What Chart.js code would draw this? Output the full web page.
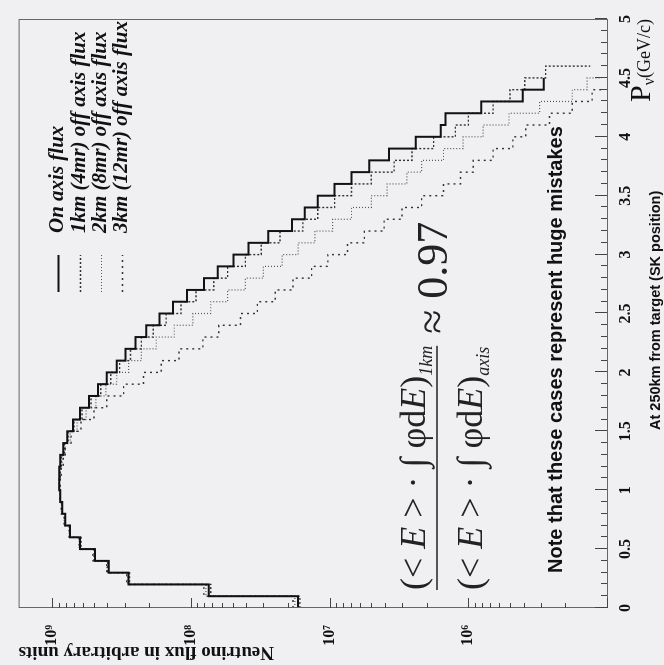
<!DOCTYPE html>
<html>
<head>
<meta charset="utf-8">
<script src="https://cdn.jsdelivr.net/npm/chart.js@4.4.1/dist/chart.umd.min.js"></script>
<style>
  html, body { margin: 0; padding: 0; background: #f0eff1; overflow: hidden; }
  /* the figure is printed turned a quarter turn to the left */
  #wrap { position: absolute; left: 0; top: 0; width: 665px; height: 664px;
          transform-origin: 0 0; transform: translate(0, 665px) rotate(-90deg); }
</style>
</head>
<body>
<div id="wrap"><canvas id="flux" width="665" height="664"></canvas></div>
<script>
// Bin edges in GeV/c (0.1 GeV/c bins)
const momentumEdges = [0.0, 0.1, 0.2, 0.3, 0.4, 0.5, 0.6, 0.7, 0.8, 0.9,
    1.0, 1.1, 1.2, 1.3, 1.4, 1.5, 1.6, 1.7, 1.8, 1.9,
    2.0, 2.1, 2.2, 2.3, 2.4, 2.5, 2.6, 2.7, 2.8, 2.9,
    3.0, 3.1, 3.2, 3.3, 3.4, 3.5, 3.6, 3.7, 3.8, 3.9,
    4.0, 4.1, 4.2, 4.3, 4.4, 4.5, 4.6, 4.7, 4.8, 4.9, 5.0];

// Flux per bin (arbitrary units)
const onAxisFlux = [1.69e7, 7.44e7, 2.82e8, 3.92e8, 4.93e8, 6.31e8, 7.44e8, 8.07e8, 8.48e8, 8.77e8,
    8.91e8, 8.91e8, 8.77e8, 8.34e8, 7.8e8, 7.08e8, 6.31e8, 5.44e8, 4.69e8, 4.05e8,
    3.43e8, 2.96e8, 2.51e8, 2.10e8, 1.69e8, 1.35e8, 1.07e8, 8.07e7, 6.41e7, 4.93e7,
    3.85e7, 2.77e7, 1.87e7, 1.51e7, 1.22e7, 9.21e6, 6.96e6, 5.18e6, 3.73e6, 2.39e6,
    1.58e6, 1.46e6, 8.07e5, 4.05e5, 2.86e5, 2.86e5, 0, 0, 0, 0];
const offAxis1km = [1.64e7, 7.20e7, 2.77e8, 3.98e8, 4.93e8, 6.21e8, 7.44e8, 8.07e8, 8.48e8, 8.77e8,
    8.91e8, 8.77e8, 8.62e8, 8.21e8, 7.69e8, 6.96e8, 6.11e8, 5.26e8, 4.47e8, 3.79e8,
    3.27e8, 2.73e8, 2.28e8, 1.87e8, 1.51e8, 1.18e8, 9.21e7, 6.85e7, 5.44e7, 4.05e7,
    3.11e7, 2.28e7, 1.56e7, 1.22e7, 9.21e6, 6.96e6, 5.01e6, 3.43e6, 2.55e6, 1.78e6,
    1.24e6, 1.00e6, 6.63e5, 5.01e5, 3.92e5, 2.77e5, 1.32e5, 0, 0, 0];
const offAxis2km = [1.78e7, 7.81e7, 2.87e8, 4.05e8, 5.01e8, 6.41e8, 7.56e8, 8.21e8, 8.62e8, 8.77e8,
    8.91e8, 8.77e8, 8.48e8, 8.07e8, 7.44e8, 6.63e8, 5.71e8, 4.85e8, 4.11e8, 3.43e8,
    2.82e8, 2.28e8, 1.78e8, 1.32e8, 9.68e7, 7.20e7, 5.44e7, 4.05e7, 3.01e7, 2.20e7,
    1.69e7, 1.28e7, 9.52e6, 6.96e6, 5.01e6, 3.85e6, 2.77e6, 2.17e6, 1.51e6, 1.09e6,
    7.81e5, 5.09e5, 3.06e5, 1.78e5, 1.39e5, 1.09e5, 0, 0, 0, 0];
const offAxis3km = [1.84e7, 8.07e7, 2.91e8, 4.05e8, 5.09e8, 6.41e8, 7.56e8, 8.21e8, 8.62e8, 8.77e8,
    8.77e8, 8.62e8, 8.34e8, 8.07e8, 7.32e8, 6.21e8, 5.01e8, 4.05e8, 3.06e8, 2.20e8,
    1.64e8, 1.22e8, 8.21e7, 6.31e7, 4.39e7, 3.32e7, 2.47e7, 1.84e7, 1.35e7, 1.03e7,
    7.44e6, 5.62e6, 4.05e6, 3.01e6, 2.17e6, 1.51e6, 1.14e6, 9.21e5, 6.63e5, 4.77e5,
    3.85e5, 2.60e5, 1.78e5, 1.28e5, 1.03e5, 0, 0, 0, 0, 0];

const seriesLabels = ['On axis flux', '1km (4mr) off axis flux', '2km (8mr) off axis flux', '3km (12mr) off axis flux'];
const labelledDecades = [6, 7, 8, 9];

const SERIF = '"Liberation Serif", "Times New Roman", serif';
const SANS = '"Liberation Sans", Arial, sans-serif';
const SUP = {5: '\u2075', 6: '\u2076', 7: '\u2077', 8: '\u2078', 9: '\u2079'};

// histogram: one point per bin edge, last bin value carried to the end edge
function histPoints(values) {
    return momentumEdges.map((p, i) => ({ x: p, y: values[Math.min(i, values.length - 1)] }));
}

function isHalf(v) {
    return Math.abs(v * 2 - Math.round(v * 2)) < 1e-6;
}

const styles = [
    { color: '#111', width: 2, dash: [] },
    { color: '#333', width: 1.4, dash: [2, 2] },
    { color: '#555', width: 1.2, dash: [1, 2] },
    { color: '#333', width: 1.4, dash: [2, 4] }
];
const series = [onAxisFlux, offAxis1km, offAxis2km, offAxis3km];

// Rahmen, Ticks nach innen, Legende und Beschriftungen
const decorations = {
    id: 'decorations',
    afterDraw(chart) {
        const { ctx, chartArea: a, scales: { x, y } } = chart;
        ctx.save();

        ctx.strokeStyle = '#666';
        ctx.lineWidth = 1;
        ctx.strokeRect(a.left + 0.5, a.top + 0.5, a.right - a.left - 1, a.bottom - a.top);

        ctx.strokeStyle = '#444';
        ctx.beginPath();
        x.ticks.forEach(t => {
            const px = Math.round(x.getPixelForValue(t.value)) + 0.5;
            const len = isHalf(t.value) ? 12 : 6;
            ctx.moveTo(px, a.bottom);
            ctx.lineTo(px, a.bottom - len);
        });
        y.ticks.forEach(t => {
            const m = t.value / Math.pow(10, Math.floor(Math.log10(t.value) + 1e-9));
            if (Math.abs(m - Math.round(m)) > 1e-6) return;
            const py = Math.round(y.getPixelForValue(t.value)) + 0.5;
            const len = Math.round(m) === 1 ? 10 : 5;
            ctx.moveTo(a.left, py);
            ctx.lineTo(a.left + len, py);
        });
        ctx.stroke();

        // Legende
        const rows = [58, 80, 101, 122];
        chart.data.datasets.forEach((ds, i) => {
            ctx.strokeStyle = ds.borderColor;
            ctx.lineWidth = ds.borderWidth;
            ctx.setLineDash(ds.borderDash);
            ctx.beginPath();
            ctx.moveTo(373, rows[i] + 0.5);
            ctx.lineTo(410, rows[i] + 0.5);
            ctx.stroke();
            ctx.setLineDash([]);
            ctx.fillStyle = '#111';
            ctx.font = 'italic bold 21px ' + SERIF;
            ctx.textBaseline = 'middle';
            ctx.fillText(ds.label, 432, rows[i]);
        });

        ctx.textBaseline = 'alphabetic';
        ctx.fillStyle = '#222';
        const run = (parts, px, py) => {
            parts.forEach(p => {
                ctx.font = p.font;
                ctx.fillText(p.text, px, py + (p.dy || 0));
                px += ctx.measureText(p.text).width;
            });
            return px;
        };
        const big = '36px ' + SERIF, bigI = 'italic 36px ' + SERIF, sub = 'italic 18px ' + SERIF;
        const body = [{ text: '(< ', font: big }, { text: 'E', font: bigI }, { text: ' > \u00b7 \u222b \u03c6d', font: big },
            { text: 'E', font: bigI }, { text: ')', font: big }];
        const e1 = run(body.concat([{ text: '1km', font: sub, dy: 7 }]), 75, 425);
        const e2 = run(body.concat([{ text: 'axis', font: sub, dy: 7 }]), 75, 482);
        ctx.strokeStyle = '#222';
        ctx.lineWidth = 1.5;
        ctx.beginPath();
        ctx.moveTo(75, 437);
        ctx.lineTo(Math.max(e1, e2), 437);
        ctx.stroke();
        ctx.font = '44px ' + SERIF;
        ctx.fillText('\u2248 0.97', Math.max(e1, e2) + 12, 447);

        ctx.fillStyle = '#111';
        ctx.font = 'bold 20px ' + SANS;
        ctx.fillText('Note that these cases represent huge mistakes', 92, 562);

        ctx.font = 'bold 14.5px ' + SANS;
        ctx.fillText('At 250km from target (SK position)', 235, 660);

        // axis title P_nu (GeV/c), right aligned at the end of the axis
        const pF = '30px ' + SERIF, nF = '16px ' + SERIF, gF = '18px ' + SERIF;
        ctx.font = pF; const w1 = ctx.measureText('P').width;
        ctx.font = nF; const w2 = ctx.measureText('\u03bd').width;
        ctx.font = gF; const w3 = ctx.measureText('(GeV/c)').width;
        run([{ text: 'P', font: pF }, { text: '\u03bd', font: nF, dy: 4 }, { text: '(GeV/c)', font: gF }],
            a.right - (w1 + w2 + w3), 650);

        ctx.restore();
    }
};

const config = {
    type: 'line',
    data: {
        datasets: series.map((vals, i) => ({
            label: seriesLabels[i],
            data: histPoints(vals),
            borderColor: styles[i].color,
            borderWidth: styles[i].width,
            borderDash: styles[i].dash,
            stepped: 'before',
            pointRadius: 0,
            fill: false
        }))
    },
    options: {
        responsive: false,
        animation: false,
        devicePixelRatio: 1,
        layout: { padding: { top: 12, right: 19, left: 0, bottom: 0 } },
        plugins: { legend: { display: false }, tooltip: { enabled: false } },
        scales: {
            x: {
                type: 'linear',
                min: 0,
                max: 5,
                grid: { display: false },
                border: { display: false },
                afterFit: s => { s.height = 57; },
                ticks: {
                    stepSize: 0.1,
                    autoSkip: false,
                    maxRotation: 0,
                    minRotation: 0,
                    padding: 1,
                    color: '#111',
                    font: { family: SERIF, size: 16, weight: 'bold' },
                    callback: v => isHalf(v) ? String(+v.toFixed(1)) : ''
                }
            },
            y: {
                type: 'logarithmic',
                min: 1e5,
                max: 1.75e9,
                grid: { display: false },
                border: { display: false },
                afterFit: s => { s.width = 57; },
                ticks: {
                    autoSkip: false,
                    padding: 9,
                    color: '#111',
                    font: { family: SERIF, size: 16, weight: 'bold' },
                    callback: v => {
                        const e = Math.log10(v);
                        const r = Math.round(e);
                        return Math.abs(e - r) < 1e-9 && labelledDecades.includes(r) ? '10' + SUP[r] : '';
                    }
                },
                title: {
                    display: true,
                    text: 'Neutrino flux in arbitrary units',
                    align: 'end',
                    color: '#111',
                    padding: { top: 2, bottom: 0 },
                    font: { family: SERIF, size: 19, weight: 'bold' }
                }
            }
        }
    },
    plugins: [decorations]
};

new Chart(document.getElementById('flux').getContext('2d'), config);
</script>
</body>
</html>
